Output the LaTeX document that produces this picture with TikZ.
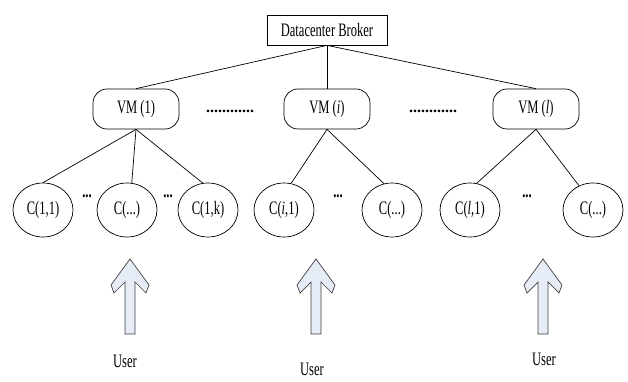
\documentclass[tikz,border=0pt]{standalone}
\usepackage{fontspec}
\setmainfont{Liberation Serif}[FakeStretch=0.66]
\newfontfamily\dotfont{Liberation Serif}
\usetikzlibrary{shapes.geometric}
\definecolor{arrowfill}{HTML}{E6ECF6}
\definecolor{arrowdraw}{HTML}{404040}
\begin{document}
\begin{tikzpicture}[x=1pt,y=-1pt,
  every node/.style={font=\fontsize{19}{22}\selectfont, inner sep=0pt},
  broker/.style={draw, line width=0.7pt, minimum width=120pt, minimum height=30pt},
  vm/.style={draw, line width=0.7pt, rounded corners=14pt, minimum width=86pt, minimum height=40pt},
  cell/.style={draw, ellipse, line width=0.7pt, minimum width=60pt, minimum height=54pt},
  link/.style={line width=0.7pt},
  dots/.style={font=\dotfont\bfseries\fontsize{16}{18}\selectfont, anchor=base},
  sdots/.style={font=\bfseries\fontsize{19}{22}\selectfont, anchor=base},
  userarrow/.pic={\draw[fill=arrowfill, draw=arrowdraw, line width=0.7pt, line join=miter]
    (0,0) -- (19,26) -- (16,34) -- (5,23) -- (5,75) -- (-5,75) -- (-5,23) -- (-16,34) -- (-19,26) -- cycle;}
]
\useasboundingbox (0,0) rectangle (628,382);

\node[broker] (broker) at (327,30) {Datacenter Broker};

\node[vm] (vm1) at (136,109) {VM (1)};
\node[vm] (vmi) at (327,109) {VM (\textit{i})};
\node[vm] (vml) at (536,109) {VM (\textit{l})};

\node[dots] (d1) at (230,113) {............};
\node[dots] (d2) at (433,113) {............};

\draw[link] (broker.south) -- (vm1.north);
\draw[link] (broker.south) -- (vmi.north);
\draw[link] (broker.south) -- (vml.north);

\node[cell] (c11) at (43,210) {C(1,1)};
\node[cell] (c1d) at (127,210) {C(...)};
\node[cell] (c1k) at (208,210) {C(1,k)};
\node[cell] (ci1) at (284,210) {C(\textit{i},1)};
\node[cell] (cid) at (392,210) {C(...)};
\node[cell] (cl1) at (470,210) {C(\textit{l},1)};
\node[cell] (cld) at (593,210) {C(...)};

\node[sdots] (e1) at (87,197) {...};
\node[sdots] (e2) at (168,197) {...};
\node[sdots] (e3) at (338,197) {...};
\node[sdots] (e4) at (527,197) {...};

\draw[link] (vm1.south) -- (c11.north);
\draw[link] (vm1.south) -- (c1d.80);
\draw[link] (vm1.south) -- (c1k.101);
\draw[link] (vmi.south) -- (ci1.75);
\draw[link] (vmi.south) -- (cid.107);
\draw[link] (vml.south) -- (cl1.76);
\draw[link] (vml.south) -- (cld.120);

\pic at (130,259) {userarrow};
\pic at (316,259) {userarrow};
\pic at (543,259) {userarrow};

\node (u1) at (125,361) {User};
\node (u2) at (312,369) {User};
\node (u3) at (544,359) {User};
\end{tikzpicture}
\end{document}
